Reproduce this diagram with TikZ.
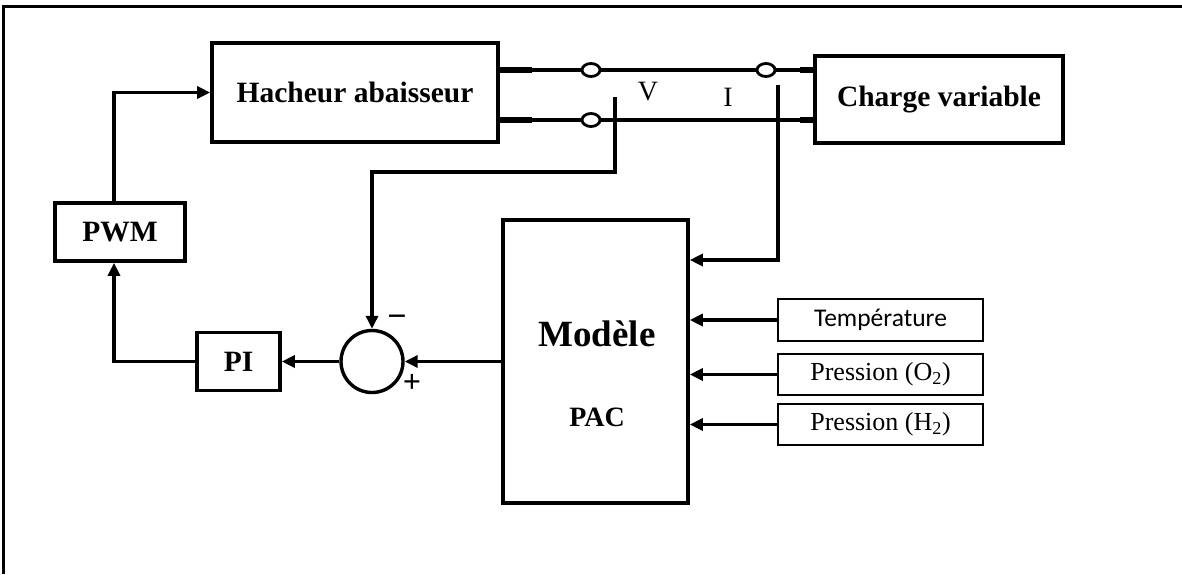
\documentclass[tikz,border=0pt]{standalone}
\usepackage{fontspec}
\setmainfont{Liberation Serif}
\newfontfamily\calibri{Carlito}
\usetikzlibrary{arrows.meta,shapes.geometric,calc}
\tikzset{
  blockbox/.style={draw,line width=3.6pt,inner sep=0pt,minimum width=#1},
  arr/.style={line width=3.4pt,-{Triangle[length=13pt,width=12pt]}},
  wire/.style={line width=4.6pt},
  stub/.style={line width=5.6pt},
  jct/.style={draw,ellipse,fill=white,line width=2.8pt,minimum width=18pt,minimum height=13pt,inner sep=0pt},
  inbox/.style={draw,line width=2.8pt,inner sep=0pt,minimum width=205pt,minimum height=41pt},
  bigb/.style={font=\fontsize{29.5}{34}\selectfont\bfseries},
}
\begin{document}
\begin{tikzpicture}[x=1pt,y=-1pt]
\useasboundingbox (0,0) rectangle (1182,574);
% frame
\draw[line width=2.2pt] (3.5,574) -- (3.5,6.5) -- (1182,6.5);
% blocks
\node[blockbox=286pt,minimum height=99pt,bigb] (hach) at (355,92.5) {Hacheur abaisseur};
\node[blockbox=248pt,minimum height=87pt,bigb] (charge) at (939,99.5) {Charge variable};
\node[blockbox=130pt,minimum height=58pt,bigb] (pwm) at (120,232) {PWM};
\node[blockbox=83pt,minimum height=58pt,bigb] (pi) at (238.5,361.5) {PI};
\node[blockbox=185pt,minimum height=283pt] (mod) at (595.5,361.5) {};
\node[font=\fontsize{37}{40}\selectfont\bfseries] (modt) at (597,334) {Modèle};
\node[font=\fontsize{28}{32}\selectfont\bfseries] (pac) at (597,417) {PAC};
\node[draw,circle,line width=3.4pt,minimum size=62pt,inner sep=0pt] (sum) at (372,361.5) {};
\node[font=\fontsize{34}{36}\selectfont\bfseries] (minus) at (397,321) {\char"2212};
\node[font=\fontsize{32}{36}\selectfont\bfseries] (plus) at (412,383) {+};
% inputs
\node[inbox,minimum height=42pt,font=\calibri\fontsize{25.5}{30}\selectfont] (temp) at (880.5,320) {Température};
\node[inbox,font=\fontsize{26}{30}\selectfont] (po2) at (880.5,374.5) {Pression (O\textsubscript{2})};
\node[inbox,font=\fontsize{26}{30}\selectfont] (ph2) at (880.5,424.5) {Pression (H\textsubscript{2})};
\draw[arr] (temp.west) -- (mod.east |- temp.west);
\draw[arr] (po2.west) -- (mod.east |- po2.west);
\draw[arr] (ph2.west) -- (mod.east |- ph2.west);
% wires
\coordinate (w1a) at (498,70);
\coordinate (w1b) at (815,70);
\coordinate (w2a) at (498,120);
\coordinate (w2b) at (815,120);
\draw[wire] (w1a) -- (w1b);
\draw[wire] (w2a) -- (w2b);
\draw[stub] (w1a) -- ++(34,0);
\draw[stub] (w2a) -- ++(34,0);
\draw[stub] (w1b) -- ++(-15,0);
\draw[stub] (w2b) -- ++(-15,0);
% measurement taps
\coordinate (vtop) at (615,97);
\coordinate (vbend) at (615,172);
\coordinate (itop) at (778,85);
\coordinate (ilev) at (700,260);
\draw[arr] (vtop) -- (vbend) -| (sum.north);
\draw[arr] (itop) |- (mod.east |- ilev);
\node[jct] (c1) at (591,70) {};
\node[jct] (c2) at (766,70) {};
\node[jct] (c3) at (591,120) {};
\node[font=\fontsize{28}{30}\selectfont] (vl) at (648,92) {V};
\node[font=\fontsize{28}{30}\selectfont] (il) at (728,97) {I};
% loop
\draw[arr] (mod.west) -- (sum.east);
\draw[arr] (sum.west) -- (pi.east);
\draw[arr] (pi.west) -| ([xshift=-6pt]pwm.south);
\draw[arr] ([xshift=-6pt]pwm.north) |- (hach.west);
\end{tikzpicture}
\end{document}
